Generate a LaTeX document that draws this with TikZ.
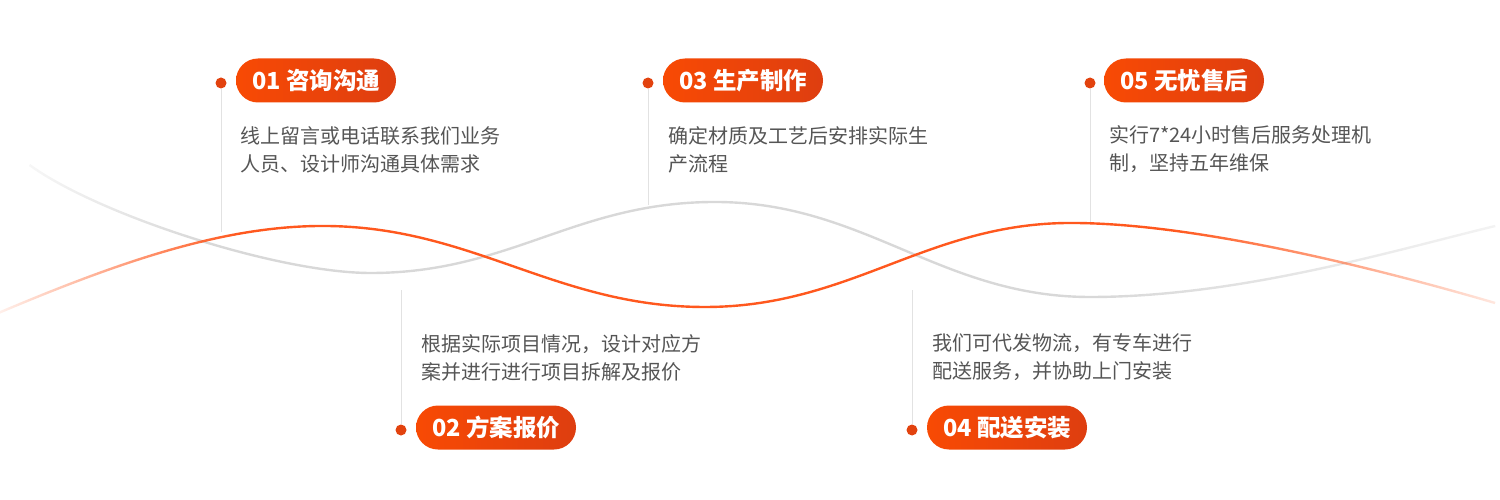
\documentclass[tikz,border=0pt]{standalone}
\usepackage{fontspec}
\setmainfont{Noto Sans CJK SC}
\usetikzlibrary{fadings}
\definecolor{pillL}{RGB}{248,74,4}
\definecolor{pillR}{RGB}{222,62,16}
\definecolor{dotc}{RGB}{226,66,14}
\definecolor{wave}{RGB}{255,88,30}
\definecolor{gwave}{RGB}{216,216,216}
\definecolor{desctxt}{RGB}{85,85,85}
\definecolor{vline}{RGB}{226,226,226}
\pgfdeclarehorizontalshading{ofadeshade}{100bp}{color(0bp)=(black); color(25bp)=(black!92); color(33bp)=(white); color(64bp)=(white); color(75bp)=(black!88); color(100bp)=(black!88)}
\pgfdeclarefading{ofade}{\pgfuseshading{ofadeshade}}
\pgfdeclarehorizontalshading{gfadeshade}{100bp}{color(0bp)=(black); color(25bp)=(black!80); color(31bp)=(white); color(61bp)=(white); color(75bp)=(black!70); color(100bp)=(black!70)}
\pgfdeclarefading{gfade}{\pgfuseshading{gfadeshade}}
\begin{document}
\begin{tikzpicture}[x=1pt,y=-1pt,
  pill/.style={rectangle, rounded corners=22pt, minimum width=160pt, minimum height=44pt, inner sep=0pt, left color=pillL, right color=pillR, text=white, font=\bfseries\fontsize{23.5}{27}\selectfont},
  dotn/.style={circle, fill=dotc, minimum size=11pt, inner sep=0pt},
  desc/.style={anchor=west, inner sep=0pt, align=left, text=desctxt, font=\fontsize{20}{28}\selectfont},
  vl/.style={draw=vline, line width=1pt},
  graywave/.style={draw=gwave, line width=2.4pt, path fading=gfade},
  orangewave/.style={draw=wave, line width=2.4pt, path fading=ofade}]
\useasboundingbox (0,0) rectangle (1500,500);
% waves
\draw[graywave] (31,165) .. controls (100,215) and (280,273) .. (373,273)
  .. controls (513,273) and (578,202) .. (718,202)
  .. controls (868,202) and (944,297) .. (1094,297)
  .. controls (1244,297) and (1400,250) .. (1500,226);
\draw[orangewave] (0,313) .. controls (130,258) and (230,226) .. (325,226)
  .. controls (475,226) and (558,307) .. (708,307)
  .. controls (855,307) and (930,223) .. (1075,223)
  .. controls (1200,223) and (1380,268) .. (1500,303);
% dots
\node[dotn] (d1) at (221,83) {};
\node[dotn] (d3) at (648,83) {};
\node[dotn] (d5) at (1090,83) {};
\node[dotn] (d2) at (401,430) {};
\node[dotn] (d4) at (912,430) {};
\coordinate (e1) at (221,232);
\coordinate (e3) at (648,205);
\coordinate (e5) at (1090,222);
\coordinate (e2) at (401,290);
\coordinate (e4) at (912,290);
\draw[vl] (d1) -- (e1);
\draw[vl] (d3) -- (e3);
\draw[vl] (d5) -- (e5);
\draw[vl] (d2) -- (e2);
\draw[vl] (d4) -- (e4);
% pills
\node[pill] (p1) at (316,80.5) {01 咨询沟通};
\node[pill] (p3) at (743,80.5) {03 生产制作};
\node[pill] (p5) at (1184,80.5) {05 无忧售后};
\node[pill] (p2) at (496,427.5) {02 方案报价};
\node[pill] (p4) at (1007,427.5) {04 配送安装};
% descriptions
\node[desc] (t1) at (240,149.5) {线上留言或电话联系我们业务\\人员、设计师沟通具体需求};
\node[desc] (t3) at (668,149.5) {确定材质及工艺后安排实际生\\产流程};
\node[desc] (t5) at (1109,149.5) {实行7*24小时售后服务处理机\\制，坚持五年维保};
\node[desc] (t2) at (421,357.5) {根据实际项目情况，设计对应方\\案并进行进行项目拆解及报价};
\node[desc] (t4) at (932,357.5) {我们可代发物流，有专车进行\\配送服务，并协助上门安装};
\end{tikzpicture}
\end{document}
